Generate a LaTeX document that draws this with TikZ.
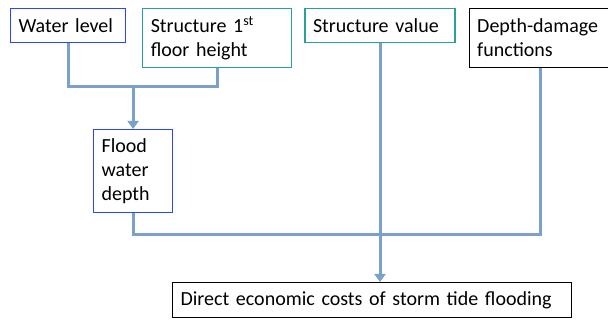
\documentclass[tikz,border=0pt]{standalone}
\usepackage{fontspec}
\setmainfont{Carlito}
\usetikzlibrary{arrows.meta, positioning}

\definecolor{boxblue}{RGB}{40,70,245}
\definecolor{boxteal}{RGB}{40,160,155}
\definecolor{linkblue}{RGB}{122,160,204}

\begin{document}
\begin{tikzpicture}[
      x=1pt, y=1pt,
      box/.style    ={rectangle, draw, line width=1.2pt, fill=white, anchor=north west,
                      align=left, inner xsep=8pt, inner ysep=0pt, font=\fontsize{20}{24}\selectfont},
      inblue/.style ={box, draw=boxblue},
      inteal/.style ={box, draw=boxteal},
      inblack/.style={box, draw=black},
      link/.style   ={draw=linkblue, line width=3pt},
      >={Triangle[width=11pt,length=8pt]}
    ]
    \useasboundingbox (0,0) rectangle (608,-320);

    % Input boxes, top row
    \node[inblue, text width=99pt, minimum height=34pt] (wl) at (10,-8) {Water level};
    \node[inteal, text width=133pt, minimum height=59pt, right=16pt of wl.north east, anchor=north west] (sf)
      {Structure 1\textsuperscript{st}\\floor height};
    \node[inteal, text width=134pt, minimum height=34pt, right=12pt of sf.north east, anchor=north west] (sv)
      {Structure value};
    \node[inblack, text width=126pt, minimum height=59pt, right=13pt of sv.north east, anchor=north west] (dd)
      {Depth-damage\\functions};

    % Intermediate and result
    \node[inblue, text width=63pt, minimum height=83pt] (fd) at (93,-129) {Flood\\water\\depth};
    \node[inblack, text width=383pt, minimum height=35pt] (dc) at (172,-282)
      {Direct economic costs of storm tide flooding};

    % Joints
    \coordinate (j1) at (fd.north |- 0,-87);
    \coordinate (j2) at (fd.south |- 0,-235);

    % Connectors
    \draw[link] (wl.south) |- (j1) -| (sf.south);
    \draw[link, ->] (j1) -- (fd.north);
    \draw[link] (fd.south) -- (j2) -| (dd.south);
    \draw[link, ->] (sv.south) -- (sv.south |- dc.north);

  \end{tikzpicture}
\end{document}
